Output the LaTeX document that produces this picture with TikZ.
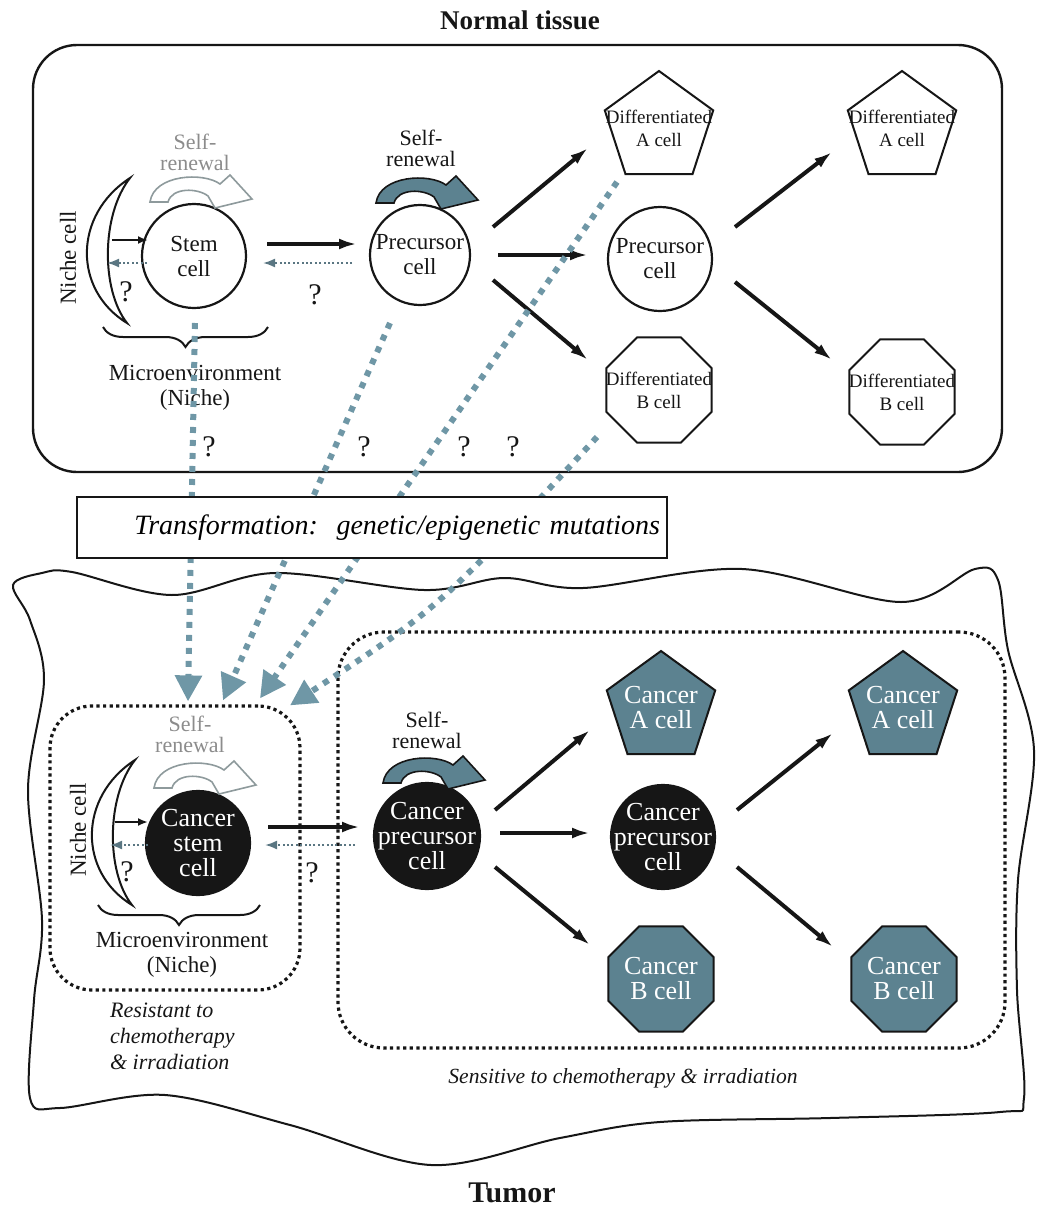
\documentclass[tikz,border=0pt]{standalone}
\usepackage{fontspec}
\setmainfont{Liberation Serif}
\usetikzlibrary{arrows.meta,shapes.geometric,decorations.pathreplacing}
\definecolor{ink}{HTML}{161616}
\definecolor{slate}{HTML}{5C8290}
\definecolor{dotblue}{HTML}{6F97A6}
\definecolor{paleline}{HTML}{8E9A9C}
\definecolor{paletext}{HTML}{8C8C8C}
\definecolor{backline}{HTML}{5A7682}
\tikzset{
  tissuetitle/.style={text=ink, font=\bfseries\fontsize{13.5}{16}\selectfont},
  tissuebox/.style={draw=ink, line width=1.2pt, rounded corners=22pt, inner sep=0pt},
  zone/.style={draw=ink, line width=1.6pt, dash pattern=on 1.6pt off 1.7pt,
    rounded corners=21pt, inner sep=0pt},
  cell/.style={circle, draw=ink, line width=1.1pt, fill=white, minimum size=52pt, inner sep=0pt},
  cancer/.style={cell, fill=ink},
  pentacell/.style={regular polygon, regular polygon sides=5, draw=ink, line width=1pt,
    fill=white, minimum size=57pt, inner sep=0pt},
  octocell/.style={regular polygon, regular polygon sides=8, draw=ink, line width=1pt,
    fill=white, minimum size=57pt, inner sep=0pt},
  celltext/.style={align=center, text=ink, font=\fontsize{11.5}{12.5}\selectfont},
  difftext/.style={align=center, text=ink, font=\fontsize{9.5}{11.5}\selectfont},
  cancertext/.style={align=center, text=white, font=\fontsize{13}{12.5}\selectfont},
  renewtext/.style={align=center, text=ink, font=\fontsize{11}{10.5}\selectfont},
  qmark/.style={text=ink, font=\fontsize{15}{15}\selectfont},
  note/.style={align=left, text=ink, font=\itshape\fontsize{11}{13}\selectfont},
  transbox/.style={draw=ink, fill=white, line width=1pt, minimum width=295pt,
    minimum height=30.5pt, text width=288pt, inner xsep=3.5pt, align=right,
    font=\itshape\fontsize{14}{16}\selectfont},
  nichebrace/.style={decorate, decoration={brace, mirror, amplitude=10pt},
    draw=ink, line width=1pt},
  cellarrow/.style={-{Latex[length=9pt,width=5.5pt]}, draw=ink, line width=2pt},
  nichearrow/.style={-{Latex[length=5pt,width=4pt]}, draw=ink, line width=1.2pt},
  backarrow/.style={-{Latex[length=6pt,width=4.5pt]}, draw=backline, line width=1pt,
    dash pattern=on 1pt off 1.2pt},
  transarrow/.style={-{Triangle[length=13pt,width=13pt]}, draw=dotblue,
    line width=3pt, dash pattern=on 3pt off 3.5pt},
  pics/renew/.style={code={
    \path[pic actions] (-44,-2) .. controls (-40,-30) and (10,-32) .. (26,-20)
      -- (36,-29) -- (58,-5) -- (21,4) -- (14,-8)
      .. controls (4,-16) and (-22,-17) .. (-26,-2) -- cycle;
  }},
  pics/nichecell/.style={code={
    \path[pic actions] (0,0) .. controls (-57,37) and (-57,112) .. (-3,145)
      .. controls (-29,112) and (-29,37) .. cycle;
  }}
}

\begin{document}
\begin{tikzpicture}[x=0.5pt,y=-0.5pt]
  \useasboundingbox (0,0) rectangle (1039,1210);

  % normal tissue
  \node[tissuetitle] (normaltitle) at (520,20) {Normal tissue};
  \node[tissuebox, minimum width=484.5pt, minimum height=213.5pt] (normalbox) at (517.5,258.5) {};

  \pic[draw=ink, fill=white, line width=1pt] at (130,178) {nichecell};
  \coordinate (niche) at (108,256);
  \node[celltext, rotate=90] (nichelabel) at (68,258) {Niche cell};

  \node[cell, label={[celltext]center:Stem\\cell}] (stem) at (194,256) {};
  \node[cell, minimum size=50pt, label={[celltext]center:Precursor\\cell}] (prec) at (420,255) {};
  \node[cell, label={[celltext]center:Precursor\\cell}] (precmid) at (660,259) {};
  \node[pentacell, label={[difftext]center:Differentiated\\A cell}] (diffA) at (659,128) {};
  \node[octocell, label={[difftext]center:Differentiated\\B cell}] (diffB) at (659,390) {};
  \node[pentacell, label={[difftext]center:Differentiated\\A cell}] (diffA2) at (902,128) {};
  \node[octocell, label={[difftext]center:Differentiated\\B cell}] (diffB2) at (902,392) {};

  \node[renewtext, text=paletext] (stemrenew) at (195,152) {Self-\\renewal};
  \pic[draw=paleline, fill=white, line width=0.8pt] at (194,204) {renew};
  \node[renewtext] (precrenew) at (421,148) {Self-\\renewal};
  \pic[draw=ink, fill=slate, line width=0.8pt] at (420,205) {renew};

  \draw[nichebrace] (103,327) -- (268,327);
  \node[celltext] (microtop) at (195,388) {Microenvironment\\(Niche)};

  \draw[nichearrow] ([shift={(4,-16)}]niche) -- ([shift={(-46,-16)}]stem.center);
  \draw[backarrow] ([shift={(-47,7)}]stem.center) -- ([shift={(-1,7)}]niche);
  \draw[cellarrow] ([shift={(73,-12)}]stem.center) -- ([shift={(-63,-11)}]prec.center);
  \draw[backarrow] ([shift={(-68,8)}]prec.center) -- ([shift={(69,7)}]stem.center);
  \draw[cellarrow] ([shift={(73,-28)}]prec.center) -- ([shift={(-71,20)}]diffA.center);
  \draw[cellarrow] ([shift={(78,0)}]prec.center) -- ([shift={(-72,-4)}]precmid.center);
  \draw[cellarrow] ([shift={(73,25)}]prec.center) -- ([shift={(-71,-30)}]diffB.center);
  \draw[cellarrow] ([shift={(75,-32)}]precmid.center) -- ([shift={(-70,24)}]diffA2.center);
  \draw[cellarrow] ([shift={(75,23)}]precmid.center) -- ([shift={(-70,-32)}]diffB2.center);

  \node[qmark] (q1) at (126,292) {?};
  \node[qmark] (q2) at (315,295) {?};
  \node[qmark] (q3) at (209,447) {?};
  \node[qmark] (q4) at (364,447) {?};
  \node[qmark] (q5) at (464,447) {?};
  \node[qmark] (q6) at (513,447) {?};

  % tumor
  \draw[ink, line width=1pt] plot[smooth cycle, tension=0.55] coordinates {
    (13,585) (42,573) (72,572) (172,595) (275,573) (424,590) (504,578) (583,588)
    (742,569) (901,602) (975,569) (998,580) (1008,650) (1034,750) (1018,880)
    (1017,990) (1024,1098) (1000,1112) (830,1118) (660,1122) (560,1138) (431,1165)
    (290,1125) (165,1095) (60,1108) (30,1098) (34,1000) (42,920) (28,790) (44,680)
    (30,620)};
  \node[tissuetitle, font=\bfseries\fontsize{15}{18}\selectfont] (tumortitle) at (512,1193) {Tumor};

  \node[zone, minimum width=125pt, minimum height=142pt] (resbox) at (175,848) {};
  \node[zone, minimum width=333.5pt, minimum height=208pt, rounded corners=23pt] (sensbox) at (671.5,840) {};

  \pic[draw=ink, fill=white, line width=1pt] at (135,760) {nichecell};
  \coordinate (nicheb) at (113,838);
  \node[celltext, rotate=90] (nichelabelb) at (78,830) {Niche cell};

  \node[cancer, label={[cancertext]center:Cancer\\stem\\cell}] (csc) at (198,843) {};
  \node[cancer, minimum size=53pt, label={[cancertext]center:Cancer\\precursor\\cell}] (cprec) at (427,836) {};
  \node[cancer, label={[cancertext]center:Cancer\\precursor\\cell}] (cprecmid) at (663,837) {};
  \node[pentacell, fill=slate, label={[cancertext]center:Cancer\\A cell}] (canA) at (661,708) {};
  \node[octocell, fill=slate, label={[cancertext]center:Cancer\\B cell}] (canB) at (661,979) {};
  \node[pentacell, fill=slate, label={[cancertext]center:Cancer\\A cell}] (canA2) at (903,708) {};
  \node[octocell, fill=slate, label={[cancertext]center:Cancer\\B cell}] (canB2) at (904,979) {};

  \node[renewtext, text=paletext] (cscrenew) at (190,734) {Self-\\renewal};
  \pic[draw=paleline, fill=white, line width=0.8pt] at (198,790) {renew};
  \node[renewtext] (cprecrenew) at (427,730) {Self-\\renewal};
  \pic[draw=ink, fill=slate, line width=0.8pt] at (427,785) {renew};

  \draw[nichebrace] (98,905) -- (260,905);
  \node[celltext] (microbot) at (182,955) {Microenvironment\\(Niche)};

  \draw[nichearrow] ([shift={(2,-16)}]nicheb) -- ([shift={(-50,-21)}]csc.center);
  \draw[backarrow] ([shift={(-50,2)}]csc.center) -- ([shift={(-3,7)}]nicheb);
  \draw[cellarrow] ([shift={(70,-16)}]csc.center) -- ([shift={(-67,-9)}]cprec.center);
  \draw[backarrow] ([shift={(-72,9)}]cprec.center) -- ([shift={(67,2)}]csc.center);
  \draw[cellarrow] ([shift={(68,-26)}]cprec.center) -- ([shift={(-71,22)}]canA.center);
  \draw[cellarrow] ([shift={(73,-3)}]cprec.center) -- ([shift={(-73,-4)}]cprecmid.center);
  \draw[cellarrow] ([shift={(68,31)}]cprec.center) -- ([shift={(-71,-34)}]canB.center);
  \draw[cellarrow] ([shift={(74,-27)}]cprecmid.center) -- ([shift={(-70,25)}]canA2.center);
  \draw[cellarrow] ([shift={(74,30)}]cprecmid.center) -- ([shift={(-71,-32)}]canB2.center);

  \node[qmark] (q7) at (127,872) {?};
  \node[qmark] (q8) at (312,873) {?};

  \node[note, anchor=west] (resist) at (103,1036) {Resistant to\\chemotherapy\\\& irradiation};
  \node[note, font=\itshape\fontsize{10.8}{13}\selectfont] (sensitive) at (623,1078)
    {Sensitive to chemotherapy \& irradiation};

  % transformation
  \draw[transarrow] ([shift={(1,67)}]stem.center) -- ([shift={(13,-3)}]resbox.north);
  \draw[transarrow] ([shift={(-30,68)}]prec.center) -- ([shift={(48,-4)}]resbox.north);
  \draw[transarrow] ([shift={(-42,54)}]diffA.center) -- ([shift={(85,-6)}]resbox.north);
  \draw[transarrow] ([shift={(-62,47)}]diffB.center) .. controls (439,608) .. ([shift={(115,1)}]resbox.north);

  \node[transbox] (transform) at (372,527.5) {Transformation:\ \ genetic/epigenetic mutations};
\end{tikzpicture}
\end{document}
